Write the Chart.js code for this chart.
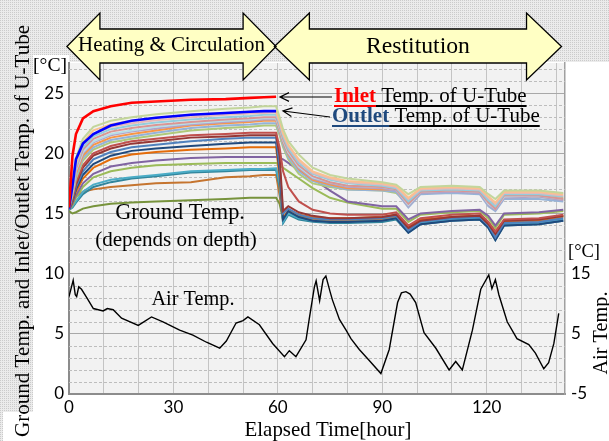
<!DOCTYPE html>
<html>
<head>
<meta charset="utf-8">
<script src="https://cdn.jsdelivr.net/npm/chart.js@4.4.1/dist/chart.umd.min.js"></script>
<style>
  html, body { margin: 0; padding: 0; background: #fff; }
  #wrap { width: 609px; height: 441px; }
</style>
</head>
<body>
<div id="wrap"><canvas id="myChart" width="609" height="441"></canvas></div>
<script>
// time axis shared by the ground / U-tube series [hour]
const hours = [0, 1, 2, 4, 7, 12, 18, 25, 35, 45, 52, 56, 59.5,
  60.5, 61.5, 63, 66, 70, 75, 80, 90, 94, 97.5, 101, 110, 118, 120.5, 122.5, 125, 135, 142]

// U-tube (only during heating & circulation)
const inletTemp  = [15.5, 19.8, 21.6, 22.9, 23.5, 23.9, 24.2, 24.3, 24.45, 24.5, 24.6, 24.65, 24.7]
const outletTemp = [15.4, 17.3, 19.5, 20.8, 21.6, 22.3, 22.7, 22.95, 23.2, 23.35, 23.45, 23.5, 23.5]

// ground temperatures at various depths
const groundA = [15.6, 17.8, 19.6, 21.2, 22.2, 22.7, 23.0, 23.25, 23.5, 23.7, 23.8, 23.9, 23.9, 23.0, 22.0, 21.0, 19.9, 18.8, 18.2, 17.9, 17.6, 17.4, 16.6, 17.2, 17.3, 17.2, 16.6, 16.2, 16.9, 16.9, 16.7]
const groundB = [15.6, 17.5, 19.3, 20.9, 21.9, 22.4, 22.7, 22.95, 23.2, 23.35, 23.45, 23.5, 23.5, 22.7, 21.7, 20.7, 19.5, 18.5, 18.0, 17.7, 17.5, 17.3, 16.3, 17.1, 17.2, 17.1, 16.4, 15.9, 16.8, 16.8, 16.6]
const groundC = [15.5, 17.3, 19.1, 20.7, 21.6, 22.2, 22.5, 22.75, 23.0, 23.2, 23.3, 23.35, 23.4, 22.6, 21.6, 20.6, 19.4, 18.4, 17.9, 17.6, 17.4, 17.2, 16.2, 17.0, 17.1, 17.0, 16.3, 15.8, 16.7, 16.7, 16.5]
const groundD = [15.5, 17.1, 18.9, 20.5, 21.4, 22.0, 22.3, 22.55, 22.8, 23.0, 23.1, 23.2, 23.2, 22.4, 21.4, 20.4, 19.2, 18.3, 17.8, 17.5, 17.3, 17.1, 16.0, 16.9, 17.0, 16.9, 16.1, 15.6, 16.6, 16.6, 16.4]
const groundE = [15.5, 17.0, 18.7, 20.3, 21.2, 21.8, 22.1, 22.35, 22.6, 22.8, 22.9, 23.0, 23.0, 22.2, 21.2, 20.2, 19.0, 18.1, 17.6, 17.3, 17.2, 17.0, 15.8, 16.8, 16.9, 16.8, 15.9, 15.4, 16.5, 16.5, 16.2]
const groundF = [15.5, 16.8, 18.6, 20.1, 21.0, 21.6, 21.9, 22.2, 22.5, 22.7, 22.8, 22.9, 22.9, 22.1, 21.1, 20.1, 18.9, 18.0, 17.6, 17.3, 17.2, 17.0, 15.7, 16.8, 16.9, 16.8, 15.8, 15.4, 16.4, 16.5, 16.2]
const groundG = [15.5, 16.8, 18.5, 20.0, 20.9, 21.5, 21.8, 22.05, 22.4, 22.6, 22.7, 22.8, 22.8, 22.0, 21.0, 20.0, 18.8, 17.9, 17.5, 17.2, 17.1, 16.9, 15.6, 16.7, 16.8, 16.7, 15.7, 15.3, 16.3, 16.4, 16.1]
const groundH = [15.5, 16.7, 18.3, 19.8, 20.7, 21.3, 21.6, 21.9, 22.3, 22.5, 22.6, 22.7, 22.7, 21.9, 20.9, 19.9, 18.7, 17.8, 17.4, 17.1, 17.0, 17.0, 16.0, 16.9, 17.0, 16.9, 16.0, 15.8, 16.7, 16.6, 16.3]
const groundI = [15.5, 16.6, 18.1, 19.6, 20.5, 21.1, 21.4, 21.7, 22.1, 22.3, 22.4, 22.5, 22.5, 21.7, 20.7, 19.7, 18.5, 17.7, 17.3, 17.0, 16.9, 16.8, 15.5, 16.6, 16.7, 16.6, 15.6, 15.2, 16.2, 16.2, 16.0]
const groundJ = [15.4, 16.5, 17.9, 19.4, 20.3, 20.9, 21.2, 21.5, 21.9, 22.1, 22.2, 22.3, 22.3, 21.5, 20.5, 19.5, 18.3, 17.5, 17.2, 17.0, 16.9, 16.7, 15.8, 16.7, 16.8, 16.7, 15.9, 15.5, 16.5, 16.4, 16.1]
const groundK = [15.4, 16.3, 17.6, 19.0, 20.0, 20.6, 21.0, 21.2, 21.5, 21.6, 21.7, 21.7, 21.7, 20.5, 18.5, 17.2, 16.0, 15.3, 15.0, 14.9, 14.9, 15.1, 14.0, 14.6, 14.9, 15.0, 14.3, 13.5, 14.5, 14.6, 14.9]
const groundL = [15.4, 16.2, 17.4, 18.8, 19.8, 20.4, 20.8, 21.0, 21.3, 21.4, 21.5, 21.5, 21.5, 19.8, 15.2, 15.6, 15.1, 14.8, 14.6, 14.6, 14.7, 14.9, 13.8, 14.4, 14.7, 14.8, 14.1, 13.3, 14.4, 14.5, 14.8]
const groundM = [15.3, 16.1, 17.2, 18.5, 19.5, 20.1, 20.5, 20.7, 21.0, 21.2, 21.3, 21.3, 21.3, 19.0, 15.0, 15.4, 14.9, 14.6, 14.5, 14.5, 14.6, 14.8, 13.6, 14.3, 14.6, 14.7, 14.0, 13.0, 14.2, 14.3, 14.6]
const groundN = [15.3, 16.0, 17.0, 18.2, 19.1, 19.8, 20.2, 20.4, 20.6, 20.8, 20.9, 20.9, 20.9, 18.5, 14.5, 15.2, 14.7, 14.4, 14.3, 14.3, 14.4, 14.6, 13.4, 14.1, 14.4, 14.5, 13.8, 12.8, 14.0, 14.1, 14.4]
const groundO = [15.3, 15.9, 16.8, 17.9, 18.8, 19.5, 19.9, 20.1, 20.3, 20.4, 20.5, 20.5, 20.5, 18.0, 14.6, 15.3, 14.9, 14.7, 14.6, 14.6, 14.7, 14.9, 13.9, 14.5, 14.7, 14.8, 14.2, 13.5, 14.4, 14.5, 14.8]
const groundP = [15.3, 15.8, 16.5, 17.5, 18.3, 18.9, 19.2, 19.4, 19.6, 19.7, 19.7, 19.7, 19.7, 19.6, 19.5, 19.2, 18.6, 17.9, 16.9, 16.0, 15.6, 15.6, 14.5, 15.0, 15.2, 15.3, 14.8, 14.0, 15.0, 15.1, 15.3]
const groundQ = [15.3, 15.7, 16.3, 17.2, 18.0, 18.5, 18.8, 19.0, 19.1, 19.2, 19.2, 19.2, 19.2, 19.0, 18.8, 18.5, 17.9, 17.1, 16.3, 15.9, 15.4, 15.4, 14.3, 14.9, 15.1, 15.2, 14.6, 13.8, 14.9, 15.0, 15.2]
const groundR = [15.3, 15.6, 16.0, 16.8, 17.4, 17.8, 18.0, 18.2, 18.5, 18.6, 18.7, 18.7, 18.75, 17.5, 14.3, 15.0, 14.6, 14.4, 14.3, 14.3, 14.4, 14.6, 13.5, 14.2, 14.5, 14.6, 13.9, 12.9, 14.1, 14.2, 14.5]
const groundS = [15.3, 15.5, 15.9, 16.6, 17.2, 17.6, 17.9, 18.1, 18.4, 18.5, 18.6, 18.6, 18.6, 17.2, 14.2, 14.9, 14.5, 14.3, 14.2, 14.2, 14.3, 14.5, 13.4, 14.1, 14.4, 14.5, 13.8, 12.8, 14.0, 14.1, 14.4]
const groundT = [15.4, 15.9, 16.4, 16.8, 17.0, 17.2, 17.35, 17.5, 17.6, 18.0, 18.1, 18.2, 18.2, 16.5, 14.4, 15.1, 14.7, 14.5, 14.4, 14.4, 14.5, 14.7, 13.7, 14.3, 14.6, 14.7, 14.1, 13.3, 14.3, 14.4, 14.7]
const groundU = [15.2, 15.0, 15.1, 15.4, 15.6, 15.8, 15.9, 16.0, 16.1, 16.2, 16.3, 16.3, 16.3, 15.8, 14.5, 15.0, 14.8, 14.6, 14.5, 14.5, 14.6, 14.8, 13.8, 14.4, 14.7, 14.8, 14.2, 13.4, 14.4, 14.5, 14.8]

// air temperature (right axis)
const airHours = [0, 1.2, 1.8, 2.2, 2.8, 3.6, 5.1, 7, 9.8, 11, 12.7, 15.1, 19.9, 23.7, 27, 31.8, 35.6, 39.5, 43.3, 45.2, 48, 50, 51.4, 54.7, 58.5,
  61.9, 63.3, 65.2, 68.1, 69, 70.5, 71, 72, 73, 73.8, 75, 75.7, 77.7, 79.6, 81, 83.4, 86.2, 89.6, 92, 94.4, 95.5, 96.8, 98, 99.6,
  102, 105.4, 109.2, 111.1, 113, 115.9, 118.3, 120.6, 121.5, 122.5, 123.5, 125.9, 128.7, 132.1, 134, 136.4, 137.8, 139.3, 140.7]
const airTemp = [11.2, 13.9, 11.5, 11.2, 12.8, 12.4, 11.0, 9.2, 8.8, 9.2, 9.0, 7.6, 6.4, 7.8, 7.0, 5.6, 4.8, 3.6, 2.6, 3.8, 6.8, 7.2, 7.8, 6.5, 3.4,
  1.2, 2.2, 1.2, 4.0, 7.4, 12.8, 13.8, 10.5, 14.0, 14.6, 12.0, 10.6, 7.4, 5.6, 4.2, 2.4, 0.6, -1.6, 2.4, 10.2, 11.8, 12.0, 11.6, 10.2,
  5.2, 2.6, -1.0, 0.4, -1.0, 5.6, 12.4, 14.8, 12.5, 14.0, 11.5, 7.0, 4.2, 3.2, 1.8, -0.8, 0.2, 3.4, 8.4]

const xTicks = [0, 30, 60, 90, 120]
const airTicks = [-5, 5, 15]

const serif = '"Liberation Serif", "Times New Roman", serif'
Chart.defaults.font.family = 'Lato, "Noto Sans", sans-serif'
Chart.defaults.color = '#000'

const series = (label, xs, ys, color, width, axis) => ({
  label: label,
  data: ys.map((v, i) => ({ x: xs[i], y: v })),
  borderColor: color,
  borderWidth: width,
  pointRadius: 0,
  tension: 0,
  fill: false,
  yAxisID: axis || 'y'
})

const grounds = [
  [groundA, '#c3d69b'], [groundB, '#fac090'], [groundC, '#e6b9b8'], [groundD, '#93cddd'],
  [groundE, '#d99694'], [groundF, '#b7dee8'], [groundG, '#b3a2c7'], [groundH, '#f79646'],
  [groundI, '#95b3d7'], [groundJ, '#afc97a'], [groundK, '#c0504d'], [groundL, '#953735'],
  [groundM, '#4f81bd'], [groundN, '#1f497d'], [groundO, '#e46c0a'], [groundP, '#8064a2'],
  [groundQ, '#9bbb59'], [groundR, '#4bacc6'], [groundS, '#31859c'], [groundT, '#c5742f'],
  [groundU, '#77933c']
]

const datasets = [
  series('Air Temp.', airHours, airTemp, '#000', 1.4, 'y2'),
  series('Inlet', hours, inletTemp, '#ff0000', 2.6),
  series('Outlet', hours, outletTemp, '#0000ff', 2.6)
]
grounds.forEach((g, i) => datasets.push(series('ground' + i, hours, g[0], g[1], 2)))

function stipple(ctx) {
  const c = document.createElement('canvas')
  c.width = 2; c.height = 2
  const p = c.getContext('2d')
  p.fillStyle = '#ebebeb'; p.fillRect(0, 0, 2, 2)
  p.fillStyle = '#cbcbcb'; p.fillRect(0, 0, 1, 1)
  return ctx.createPattern(c, 'repeat')
}

// font size so that text gets roughly the wanted width
function fitFont(ctx, text, width, bold) {
  ctx.font = (bold ? 'bold ' : '') + '20px ' + serif
  const s = 20 * width / ctx.measureText(text).width
  return (bold ? 'bold ' : '') + s.toFixed(1) + 'px ' + serif
}

function text(ctx, str, x, y, width) {
  ctx.font = fitFont(ctx, str, width)
  ctx.textAlign = 'center'
  ctx.textBaseline = 'middle'
  ctx.fillStyle = '#000'
  ctx.fillText(str, x, y)
}

function doubleArrow(ctx, xl, xr, head, top, bot, sTop, sBot) {
  const mid = (top + bot) / 2
  ctx.beginPath()
  ctx.moveTo(xl, mid)
  ctx.lineTo(xl + head, top)
  ctx.lineTo(xl + head, sTop)
  ctx.lineTo(xr - head, sTop)
  ctx.lineTo(xr - head, top)
  ctx.lineTo(xr, mid)
  ctx.lineTo(xr - head, bot)
  ctx.lineTo(xr - head, sBot)
  ctx.lineTo(xl + head, sBot)
  ctx.lineTo(xl + head, bot)
  ctx.closePath()
}

function pointer(ctx, x1, y1, x2, y2) {
  const ang = Math.atan2(y2 - y1, x2 - x1)
  ctx.beginPath()
  ctx.moveTo(x1, y1)
  ctx.lineTo(x2, y2)
  ctx.moveTo(x2 - 10 * Math.cos(ang - 0.45), y2 - 10 * Math.sin(ang - 0.45))
  ctx.lineTo(x2, y2)
  ctx.lineTo(x2 - 10 * Math.cos(ang + 0.45), y2 - 10 * Math.sin(ang + 0.45))
  ctx.strokeStyle = '#000'
  ctx.lineWidth = 1.2
  ctx.stroke()
}

function underlined(ctx, x, y, word, color, rest, size) {
  ctx.textAlign = 'left'
  ctx.textBaseline = 'alphabetic'
  ctx.font = 'bold ' + size + 'px ' + serif
  const w1 = ctx.measureText(word).width
  ctx.fillStyle = color
  ctx.fillText(word, x, y)
  ctx.fillRect(x, y + 3, w1, 2)
  ctx.font = size + 'px ' + serif
  const w2 = ctx.measureText(rest).width
  ctx.fillStyle = '#000'
  ctx.fillText(rest, x + w1, y)
  ctx.fillRect(x + w1, y + 3, w2, 2)
}

const decor = {
  id: 'decor',
  beforeDraw(chart) {
    const { ctx, chartArea: a, width, height } = chart
    ctx.save()
    ctx.fillStyle = stipple(ctx)
    ctx.fillRect(0, 0, width, height)
    ctx.fillStyle = '#fff'
    ctx.fillRect(33, 62, width - 33, height - 62)
    ctx.fillRect(33, 55, 36, 10)
    ctx.fillRect(3, 412, 30, 29)
    ctx.fillStyle = '#f2f2f2'
    ctx.fillRect(a.left, a.top, a.right - a.left, a.bottom - a.top)
    ctx.restore()
  },
  beforeDatasetsDraw(chart) {
    const { ctx, chartArea: a } = chart
    const y = chart.scales.y
    ctx.save()
    ctx.strokeStyle = '#bdbdbd'
    ctx.lineWidth = 1
    ctx.setLineDash([3, 2])
    for (let v = 1; v < 28; v++) {
      if (v % 5 === 0) continue
      const py = Math.round(y.getPixelForValue(v)) + 0.5
      ctx.beginPath()
      ctx.moveTo(a.left, py)
      ctx.lineTo(a.right, py)
      ctx.stroke()
    }
    ctx.restore()
  },
  afterDraw(chart) {
    const { ctx } = chart
    const x = chart.scales.x
    ctx.save()

    // phase arrows
    const x0 = x.getPixelForValue(-0.6), x1 = x.getPixelForValue(59.5)
    const x2 = x.getPixelForValue(59), x3 = x.getPixelForValue(141.5)
    ctx.fillStyle = '#ffffc4'
    doubleArrow(ctx, x0, x1, 33, 13, 80, 29, 63); ctx.fill()
    doubleArrow(ctx, x2, x3, 35, 13, 80, 29, 63); ctx.fill()
    ctx.strokeStyle = '#000'
    ctx.lineWidth = 1.3
    doubleArrow(ctx, x0, x1, 33, 13, 80, 29, 63); ctx.stroke()
    doubleArrow(ctx, x2, x3, 35, 13, 80, 29, 63); ctx.stroke()
    text(ctx, 'Heating & Circulation', (x0 + x1) / 2, 46, 187)
    text(ctx, 'Restitution', (x2 + x3) / 2, 47, 104)

    // U-tube labels
    underlined(ctx, 334, 102, 'Inlet', '#ff0000', ' Temp. of U-Tube', 21)
    underlined(ctx, 332, 122, 'Outlet', '#1f497d', ' Temp. of U-Tube', 21)
    pointer(ctx, 332, 97, 280, 97)
    pointer(ctx, 330, 117, 283, 111)

    text(ctx, 'Ground Temp.', 180, 213, 130)
    text(ctx, '(depends on depth)', 176, 240, 162)
    text(ctx, 'Air Temp.', 193, 300, 83)
    text(ctx, 'Elapsed Time[hour]', 328, 431, 167)
    text(ctx, '[\u00b0C]', 50, 66, 34)
    text(ctx, '[\u00b0C]', 584, 252, 32)

    ctx.save()
    ctx.translate(23, 231)
    ctx.rotate(-Math.PI / 2)
    text(ctx, 'Ground Temp. and Inlet/Outlet Temp. of U-Tube', 0, 0, 412)
    ctx.restore()
    ctx.save()
    ctx.translate(602, 333)
    ctx.rotate(-Math.PI / 2)
    text(ctx, 'Air Temp.', 0, 0, 83)
    ctx.restore()

    ctx.restore()
  }
}

new Chart(document.getElementById('myChart'), {
  type: 'line',
  data: { datasets: datasets },
  plugins: [decor],
  options: {
    responsive: false,
    animation: false,
    events: [],
    layout: { padding: { top: 63, left: 0, right: 0, bottom: 0 } },
    plugins: { legend: { display: false }, tooltip: { enabled: false } },
    scales: {
      x: {
        type: 'linear',
        min: 0,
        max: 142.5,
        ticks: {
          stepSize: 10, autoSkip: false, maxRotation: 0, includeBounds: false, padding: 3,
          font: { size: 17 },
          callback: v => xTicks.includes(v) ? String(v) : ''
        },
        grid: { color: '#c4c4c4', drawTicks: false },
        border: { color: '#8c8c8c', width: 2 },
        afterFit: s => { s.height = 47 }
      },
      y: {
        position: 'left',
        min: 0,
        max: 27.5,
        ticks: { stepSize: 5, includeBounds: false, padding: 5, font: { size: 17 } },
        grid: { color: '#a8a8a8', drawTicks: false },
        border: { color: '#8c8c8c', width: 2 },
        afterFit: s => { s.width = 69 }
      },
      y2: {
        position: 'right',
        min: -5,
        max: 50,
        afterBuildTicks: s => { s.ticks = airTicks.map(v => ({ value: v })) },
        ticks: { autoSkip: false, padding: 6, font: { size: 17 } },
        grid: { drawOnChartArea: false, drawTicks: false },
        border: { color: '#a0a0a0', width: 1.5 },
        afterFit: s => { s.width = 44 }
      }
    }
  }
})
</script>
</body>
</html>
